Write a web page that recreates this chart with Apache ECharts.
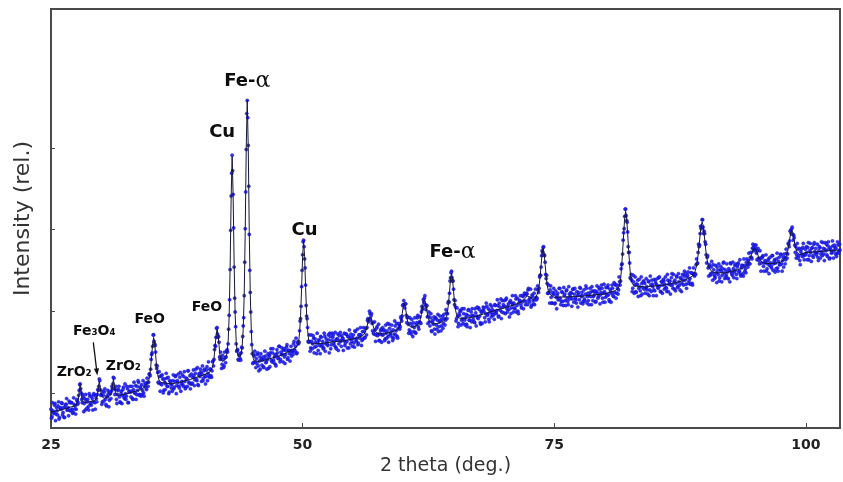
<!DOCTYPE html>
<html>
<head>
<meta charset="utf-8">
<script src="https://cdn.jsdelivr.net/npm/echarts@6/dist/echarts.min.js"></script>
<style>
  html, body { margin: 0; padding: 0; background: #fff; }
  #chart { width: 843px; height: 482px; }
</style>
</head>
<body>
<div id="chart"></div>
<script>
// Diffractometer scan, 25.00 to 103.40 deg 2-theta, 0.05 deg steps.
// One row per whole degree. scanCounts holds the points at D.00, D.10, ... D.90,
// scanCountsHalf the points in between (D.05, D.15, ... D.95).
const scanStart = 25;
const scanStep = 0.1;
const scanCounts = [
  [80,71,78,76,87,74,78,84,68,81],
  [80,87,76,70,83,86,79,82,90,78],
  [88,80,76,86,84,80,90,88,103,111],
  [100,88,95,87,79,91,89,83,99,86],
  [85,93,89,98,80,93,98,103,117,104],
  [98,89,97,101,92,84,95,99,91,99],
  [102,105,119,105,104,92,98,104,95,88],
  [102,97,107,93,99,96,105,88,102,101],
  [102,93,104,100,109,98,103,113,98,106],
  [110,103,100,108,111,104,113,113,123,129],
  [147,157,171,160,150,130,125,112,120,111],
  [110,117,103,113,111,118,108,99,115,111],
  [110,115,105,114,121,109,113,108,119,102],
  [114,110,120,114,107,117,127,113,121,111],
  [111,119,121,116,129,115,110,122,120,125],
  [123,115,127,121,120,132,124,121,129,121],
  [127,139,141,158,168,180,168,162,141,143],
  [135,141,133,143,144,153,160,195,251,341],
  [391,343,254,199,160,152,141,146,142,149],
  [155,182,219,301,398,458,403,294,223,175],
  [148,137,145,138,142,147,133,139,129,141],
  [140,132,142,145,138,141,130,146,149,140],
  [149,140,144,135,146,149,143,157,141,147],
  [147,152,144,147,156,141,152,148,151,145],
  [150,160,153,157,148,161,160,176,191,230],
  [269,287,264,232,194,180,162,163,155,163],
  [160,167,156,162,148,161,165,158,169,157],
  [163,155,169,160,162,158,165,173,154,164],
  [168,161,164,156,166,172,160,164,163,170],
  [167,164,158,172,163,169,155,166,172,163],
  [167,161,176,165,167,159,171,167,171,164],
  [166,175,168,179,180,191,190,197,194,185],
  [186,172,177,171,181,172,164,172,178,171],
  [171,177,166,173,176,169,184,172,175,168],
  [177,172,182,176,169,179,183,181,191,194],
  [208,208,209,195,192,184,177,185,172,182],
  [186,180,174,184,192,181,187,186,199,202],
  [214,216,208,206,193,194,187,192,176,187],
  [184,178,192,183,189,175,187,189,182,194],
  [185,191,189,198,197,212,222,241,249,237],
  [227,208,205,191,194,185,195,200,189,191],
  [197,189,192,184,195,202,189,194,187,195],
  [194,186,198,194,192,204,194,184,199,201],
  [200,192,197,206,196,190,201,198,206,196],
  [200,208,198,201,207,194,205,215,199,205],
  [198,206,214,203,206,202,211,197,210,208],
  [210,203,215,207,200,210,213,207,211,218],
  [213,220,212,221,226,214,216,205,220,213],
  [222,214,217,216,226,228,244,254,274,278],
  [269,260,240,234,222,223,226,217,210,221],
  [221,210,217,219,214,228,216,212,223,207],
  [219,213,225,216,208,221,218,222,215,227],
  [221,216,210,219,223,214,228,218,219,212],
  [215,221,228,218,213,219,223,208,225,218],
  [220,211,224,222,218,227,220,232,216,222],
  [224,217,221,229,220,212,224,222,228,218],
  [223,232,222,228,226,236,237,257,270,296],
  [316,325,311,297,272,259,240,238,228,236],
  [232,224,233,238,228,230,219,234,229,237],
  [234,228,230,221,236,226,232,238,230,226],
  [225,234,232,229,241,231,224,236,232,237],
  [233,229,224,238,233,237,232,246,228,236],
  [238,234,242,230,236,226,240,234,238,243],
  [238,233,242,248,237,240,247,234,246,244],
  [246,257,258,272,279,295,301,312,303,298],
  [285,269,266,253,255,244,254,247,257,244],
  [242,247,254,245,237,251,249,244,259,247],
  [251,244,248,240,250,259,248,244,252,248],
  [250,245,254,259,249,245,253,256,243,256],
  [252,260,257,262,258,266,266,277,278,275],
  [277,271,274,265,258,265,259,267,255,259],
  [261,249,258,264,256,259,253,268,258,263],
  [259,264,253,261,257,270,258,262,254,266],
  [263,271,270,282,286,299,301,294,293,281],
  [279,269,276,268,262,273,270,278,268,270],
  [269,272,278,263,274,272,277,268,282,273],
  [277,271,266,274,278,270,273,284,270,276],
  [274,269,280,276,265,275,272,280,274,278],
  [277,271,281,274,275]
];
const scanCountsHalf = [
  [69,88,75,85,66,82,73,89,70,82],
  [88,73,82,70,86,93,79,72,88,79],
  [88,75,94,80,74,92,86,97,110,105],
  [92,98,77,93,98,81,92,79,96,88],
  [96,79,99,88,96,89,104,108,115,97],
  [86,102,90,105,86,96,103,83,101,93],
  [108,111,118,98,108,87,103,108,89,99],
  [87,104,95,111,92,108,88,101,108,95],
  [108,92,113,100,92,108,115,97,107,96],
  [98,115,96,112,106,118,108,123,121,141],
  [149,171,163,158,134,133,113,126,102,121],
  [122,100,117,104,124,108,119,101,114,106],
  [102,122,107,120,99,115,123,106,125,111],
  [122,108,126,105,118,108,127,112,105,123],
  [112,128,109,124,117,131,109,124,129,114],
  [133,118,129,111,128,115,138,119,129,119],
  [138,133,153,157,179,172,169,144,150,130],
  [146,131,150,137,151,150,178,214,299,369],
  [372,302,216,181,151,153,140,148,140,156],
  [169,192,260,346,442,437,353,250,199,159],
  [136,147,151,131,136,149,127,144,148,134],
  [144,131,151,137,129,148,144,132,154,138],
  [154,137,147,133,153,142,157,138,150,155],
  [138,154,136,152,159,143,152,139,157,152],
  [147,163,151,167,149,163,162,188,206,250],
  [285,279,253,207,191,163,171,151,171,154],
  [170,149,166,157,173,152,164,148,168,159],
  [154,173,151,166,160,171,149,169,159,173],
  [171,158,174,154,166,152,170,174,157,166],
  [152,173,161,172,155,169,177,160,168,157],
  [171,156,175,163,178,161,171,180,158,175],
  [180,167,179,171,189,187,200,189,197,176],
  [173,187,163,179,170,184,164,176,162,180],
  [176,164,183,167,185,162,179,171,183,164],
  [167,188,171,185,167,185,178,193,188,207],
  [213,204,209,186,193,173,192,175,190,169],
  [175,192,173,186,195,178,193,185,206,204],
  [211,219,202,207,185,199,182,197,175,189],
  [193,172,191,178,196,181,194,176,190,179],
  [196,183,202,191,210,211,237,247,241,237],
  [214,213,188,204,181,197,201,183,203,185],
  [203,183,196,181,201,189,180,199,203,190],
  [187,203,182,205,191,202,186,199,185,205],
  [204,187,210,195,203,187,208,193,202,195],
  [190,207,197,214,193,210,201,191,213,208],
  [213,197,216,199,209,193,213,204,219,199],
  [204,219,199,216,197,213,219,204,219,203],
  [222,208,222,208,228,211,227,207,218,209],
  [208,227,214,231,223,242,244,268,272,279],
  [268,245,244,222,232,210,231,210,223,228],
  [209,225,203,222,215,228,208,224,212,229],
  [221,207,226,212,230,215,223,206,227,211],
  [228,214,224,205,220,229,210,223,209,226],
  [213,231,210,222,208,228,218,230,213,224],
  [225,212,231,216,229,209,223,228,211,233],
  [211,229,219,232,214,227,211,232,219,235],
  [233,216,232,221,242,232,252,258,287,301],
  [325,317,309,279,272,241,245,224,244,222],
  [242,223,233,218,239,225,242,221,236,227],
  [222,240,226,237,219,243,224,233,219,239],
  [237,219,240,228,242,224,236,222,239,227],
  [242,228,245,224,236,221,241,232,245,227],
  [225,243,229,246,232,241,224,245,232,249],
  [246,228,244,234,253,233,247,232,253,243],
  [245,264,259,282,281,304,303,312,295,295],
  [282,259,268,243,257,246,261,238,251,240],
  [256,235,250,258,241,255,236,252,260,240],
  [242,258,240,252,236,258,246,260,241,256],
  [258,240,257,248,263,243,256,246,264,249],
  [247,264,254,271,258,272,264,282,274,281],
  [281,263,277,262,274,249,265,268,249,262],
  [269,252,262,246,266,255,268,250,261,248],
  [252,271,249,266,257,269,249,266,270,258],
  [276,265,283,279,298,295,303,287,290,272],
  [265,283,265,277,257,276,267,283,263,276],
  [279,263,284,268,283,261,278,266,284,271],
  [269,282,262,279,265,285,268,277,262,284],
  [282,267,285,264,278,271,286,265,281,270],
  [267,285,271,282]
];

// Fitted profile (background + peaks)
const fitAngle = [
  25,26,27,27.5,27.6,27.7,27.8,27.9,28,28.1,28.2,28.5,
  29.4,29.5,29.6,29.7,29.8,29.9,30,30.1,30.3,30.9,
  31,31.1,31.2,31.3,31.4,31.5,31.7,32.5,33.5,34,34.3,34.5,34.6,34.7,34.8,34.9,
  35,35.1,35.2,35.3,35.4,35.5,35.6,35.7,35.8,36,37,38,39,40,40.5,40.8,40.9,
  41,41.1,41.2,41.3,41.4,41.5,41.6,41.7,41.8,41.9,
  42,42.1,42.2,42.3,42.4,42.5,42.6,42.7,42.8,42.9,
  43,43.1,43.2,43.3,43.4,43.5,43.6,43.7,43.8,43.9,
  44,44.1,44.2,44.3,44.4,44.5,44.6,44.7,44.8,44.9,
  45,45.1,45.2,45.5,46,47,48,49,49.3,49.5,49.6,49.7,49.8,49.9,
  50,50.1,50.2,50.3,50.4,50.5,50.6,50.7,50.9,52,53,54,55,55.5,
  56,56.1,56.2,56.3,56.4,56.5,56.6,56.7,56.8,56.9,
  57,57.1,57.2,57.3,57.5,58,59,59.4,59.5,59.6,59.7,59.8,59.9,
  60,60.1,60.2,60.3,60.4,60.5,60.6,60.8,61,61.4,61.5,61.6,61.7,61.8,61.9,
  62,62.1,62.2,62.3,62.4,62.5,62.6,62.7,62.9,63.5,64,64.2,64.3,64.4,64.5,64.6,64.7,64.8,64.9,
  65,65.1,65.2,65.3,65.4,65.6,66,67,68,69,70,71,71.8,72,72.3,72.6,72.9,
  73.2,73.3,73.4,73.5,73.6,73.7,73.8,73.9,74,74.1,74.2,74.3,74.4,74.5,74.6,74.8,
  75,76,77,78,79,80,81,81.3,81.4,81.5,81.6,81.7,81.8,81.9,
  82,82.1,82.2,82.3,82.4,82.5,82.6,82.7,82.8,83,83.5,84,85,86,87,88,88.5,88.7,88.8,88.9,
  89,89.1,89.2,89.3,89.4,89.5,89.6,89.7,89.8,89.9,
  90,90.1,90.2,90.3,90.4,90.5,90.7,91,92,93,93.9,94,94.2,94.3,94.4,94.5,94.6,94.7,94.8,94.9,
  95,95.1,95.2,95.3,95.4,95.5,95.7,96,97,97.5,98,98.1,98.2,98.3,98.4,98.5,98.6,98.7,98.8,98.9,
  99,99.1,99.2,99.4,100,101,102,103.4
];
const fitIntensity = [
  76.7,79.2,82.9,84.7,87,90.4,100.8,110.1,101.5,91.8,89.1,88.1,
  90.8,93.1,96.4,105.7,114,106.3,97.6,94.9,93.4,96.9,
  100.1,108.3,116.6,108.8,101,98.3,96.8,99,102.4,104.2,107.4,109.4,111.2,114.4,120.3,130.6,
  145.1,160.4,168,160.9,146,132.1,122.4,117,114.3,112.5,111,113.5,117.1,121.4,123.6,125.7,127,
  130.1,134.5,142.8,155.2,169.9,178,171.1,157.5,145.4,139.9,
  138.6,138.4,139.3,141.2,144.2,149.8,162.3,192.8,253.4,339,
  389.6,340,256,196,163,150,145,143,144,148,
  158,178,221,298,400,458,400,298,221,178,
  150,142,139,138.6,139.2,142.8,146.5,153,155.3,158.2,161.6,173.9,194.3,227.6,
  266.7,286.3,267.2,228.8,196,176.3,164.5,161.8,160.1,160.5,162.5,163.6,166.1,167.6,
  170.2,171.5,173.5,176.7,181.3,186.9,192,194.4,192.4,187.7,
  182.5,178.3,175.5,173.9,172.6,172,175.3,177.2,178.2,180,183.3,189,197.2,
  205.5,209.7,205.9,197.8,190.2,184.9,182,180.4,180.7,182.6,183.9,186.1,189.9,195.8,203.5,
  210.6,214.2,211,203.8,196.6,191.1,187.7,185.9,184.6,185.1,187.7,190.4,193.5,199.3,209.4,223.8,239.1,246.6,239.5,
  224.6,210.7,201.1,195.8,193.2,191.5,191,193,196.7,200.4,204,207.7,211.5,214,218.8,217,214.5,
  217.4,219.8,223.8,230.8,241.9,256.4,270.7,277.3,271.1,257.2,243,232.3,225.6,222,219.9,218.4,
  217,217.5,218,218.7,220,221.2,224.8,227.4,229.1,232.2,239.4,253.5,272.7,294,
  313.5,322.4,314.2,295.3,274.4,255.8,242.1,235.5,232.9,231,230.1,229.7,231,232.2,234.6,238.2,241.1,242.9,244.2,246,
  248.8,253.2,259.8,268.9,280.6,293.4,304.4,309.1,305,294.6,
  282.4,271.2,262.6,256.5,252.6,250.3,248.2,247.2,247,250,253.5,255.1,257.5,259.5,262,265.3,269,272.8,275.9,277.3,
  276.4,273.7,270.3,267,264.1,262,259.5,258.3,258.7,259.8,265.2,268.4,273.1,279.9,288.1,295.7,299.2,296.6,289.9,282.6,
  276.7,273,270.9,269.2,271.8,272.6,273.8,275
];

// Phase assignments written above the reflections
const peakPhase = ['ZrO\u2082', 'Fe\u2083O\u2084', 'ZrO\u2082', 'FeO', 'FeO', 'Cu', 'Fe-\u03b1', 'Cu', 'Fe-\u03b1'];
const peakAngle = [27.9, 29.8, 31.2, 35.2, 41.5, 43.0, 44.5, 50.1, 64.8];
const peakTop = [110.1, 114, 116.6, 168, 178, 389.6, 458, 286.3, 246.6];

// Unlabelled intensity ticks
const intensityTicks = [100, 200, 300, 400];

const measured = [];
scanCounts.forEach((row, i) => {
  row.forEach((c, j) => {
    measured.push([+(scanStart + i + j * scanStep).toFixed(2), c]);
  });
});
scanCountsHalf.forEach((row, i) => {
  row.forEach((c, j) => {
    measured.push([+(scanStart + i + j * scanStep + scanStep / 2).toFixed(2), c]);
  });
});
const profile = fitAngle.map((a, i) => [a, fitIntensity[i]]);

// tag sizes and nudges: small tags for minor phases, large for Cu / Fe
const labelStyle = [
  { size: 'small', offset: [-6, -12] },
  { size: 'small', offset: [-5, -50] },
  { size: 'small', offset: [10, -13] },
  { size: 'small', offset: [-4, -18] },
  { size: 'small', offset: [-10, -22] },
  { size: 'big', offset: [-10, -24] },
  { size: 'big', offset: [0, -19] },
  { size: 'big', offset: [1, -10] },
  { size: 'big', offset: [1, -21] }
];

const ink = '#0d0d0d';
const annotations = peakPhase.map((name, i) => {
  const st = labelStyle[i];
  const isAlpha = name.indexOf('\u03b1') >= 0;
  return {
    value: [peakAngle[i], peakTop[i]],
    label: {
      show: true,
      position: 'inside',
      offset: st.offset,
      color: ink,
      textBorderWidth: 0,
      formatter: isAlpha ? '{b|Fe-}{g|\u03b1}' : (st.size === 'big' ? '{b|' + name + '}' : '{s|' + name + '}'),
      rich: {
        b: { fontFamily: 'DejaVu Sans', fontWeight: 'bold', fontSize: 18, color: ink, textBorderWidth: 0 },
        g: { fontFamily: 'DejaVu Serif', fontWeight: 'normal', fontSize: 22, color: ink, textBorderWidth: 0 },
        s: { fontFamily: 'DejaVu Sans', fontWeight: 'bold', fontSize: 14, color: ink, textBorderWidth: 0 }
      }
    }
  };
});

const frameColor = '#4a4a4a';
const chart = echarts.init(document.getElementById('chart'), null, { renderer: 'canvas' });
chart.setOption({
  animation: false,
  backgroundColor: '#ffffff',
  grid: {
    left: 51, right: 3, top: 9, bottom: 54,
    show: true, borderColor: frameColor, borderWidth: 2,
    outerBoundsMode: 'none'
  },
  xAxis: {
    type: 'value',
    min: 25, max: 103.4, interval: 25,
    name: '2 theta (deg.)',
    nameLocation: 'middle',
    nameGap: 29,
    nameTextStyle: { fontFamily: 'DejaVu Sans', fontSize: 19, color: '#333' },
    axisLine: { show: true, onZero: false, lineStyle: { color: frameColor, width: 2 } },
    axisTick: { show: true, inside: true, length: 5, lineStyle: { color: frameColor, width: 1 } },
    axisLabel: {
      fontFamily: 'DejaVu Sans', fontWeight: 'bold', fontSize: 14, color: '#222',
      margin: 10, showMaxLabel: false
    },
    splitLine: { show: false }
  },
  yAxis: {
    type: 'value',
    min: 57, max: 570,
    name: 'Intensity (rel.)',
    nameLocation: 'middle',
    nameRotate: 90,
    nameGap: 17,
    nameTextStyle: { fontFamily: 'DejaVu Sans', fontSize: 22, color: '#333' },
    axisLine: { show: true, onZero: false, lineStyle: { color: frameColor, width: 2 } },
    axisTick: { show: true, inside: true, length: 4, customValues: intensityTicks, lineStyle: { color: frameColor, width: 1 } },
    axisLabel: { show: false },
    splitLine: { show: false }
  },
  series: [
    {
      name: 'measured',
      type: 'scatter',
      data: measured,
      symbol: 'circle',
      symbolSize: 3.3,
      itemStyle: { color: '#1e1eff', borderColor: '#06069a', borderWidth: 0.4, opacity: 0.9 },
      z: 2
    },
    {
      name: 'profile',
      type: 'line',
      data: profile,
      showSymbol: false,
      lineStyle: { color: '#16163a', width: 1 },
      z: 3
    },
    {
      name: 'phases',
      type: 'scatter',
      data: annotations,
      symbolSize: 0,
      itemStyle: { opacity: 1 },
      silent: true,
      z: 5
    }
  ]
});

// arrow from the magnetite tag down to its reflection
const tip = chart.convertToPixel({ xAxisIndex: 0, yAxisIndex: 0 }, [peakAngle[1], peakTop[1]]);
const x1 = tip[0] - 6, y1 = tip[1] - 39, x2 = tip[0] - 2, y2 = tip[1] - 6;
const dx = x2 - x1, dy = y2 - y1, len = Math.sqrt(dx * dx + dy * dy);
const ux = dx / len, uy = dy / len;
chart.setOption({
  graphic: [
    { type: 'line', shape: { x1: x1, y1: y1, x2: x2 - ux * 5, y2: y2 - uy * 5 }, style: { stroke: '#111', lineWidth: 1.3 }, z: 10 },
    { type: 'polygon', shape: { points: [[x2, y2], [x2 - ux * 7 - uy * 2.6, y2 - uy * 7 + ux * 2.6], [x2 - ux * 7 + uy * 2.6, y2 - uy * 7 - ux * 2.6]] }, style: { fill: '#111' }, z: 10 }
  ]
});
</script>
</body>
</html>
